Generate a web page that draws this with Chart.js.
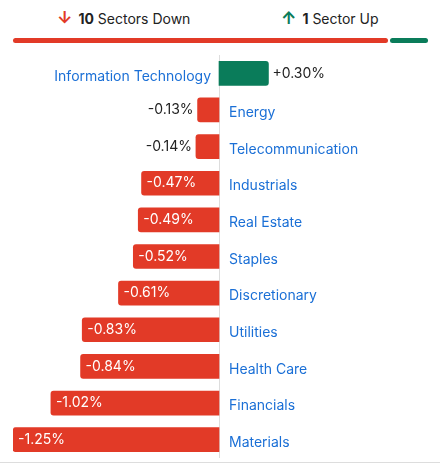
<!DOCTYPE html>
<html>
<head>
<meta charset="utf-8">
<script src="https://cdn.jsdelivr.net/npm/chart.js@4"></script>
<style>
  body { margin: 0; width: 440px; height: 466px; font-family: Inter, "Noto Sans", sans-serif; background: #fff; position: relative; overflow: hidden; }
  .head { position: absolute; top: 8px; font-size: 14px; color: #222; }
  .head b { font-weight: 700; }
  .arrow { font-weight: 700; font-size: 17px; margin-right: 6px; }
  #bar { position: absolute; top: 38px; left: 13px; width: 415px; height: 5px; display: flex; gap: 2px; }
  #bar div { height: 5px; border-radius: 3px; }
  #wrap { position: absolute; left: 0; top: 55px; width: 440px; height: 403px; }
  #baseLine { position: absolute; left: 0; top: 462px; width: 440px; height: 1px; background: #ddd; }
</style>
</head>
<body>
<div class="head" style="left:57px"><span class="arrow" style="color:#e23a27">&#8595;</span><b>10</b> Sectors Down</div>
<div class="head" style="left:281px"><span class="arrow" style="color:#0a7c5a">&#8593;</span><b>1</b> Sector Up</div>
<div id="bar"></div>
<div id="wrap"><canvas id="sectorChart"></canvas></div>
<div id="baseLine"></div>
<script>
const sectors = ['Information Technology', 'Energy', 'Telecommunication', 'Industrials', 'Real Estate',
  'Staples', 'Discretionary', 'Utilities', 'Health Care', 'Financials', 'Materials'];
const changes = [0.30, -0.13, -0.14, -0.47, -0.49, -0.52, -0.61, -0.83, -0.84, -1.02, -1.25];

const RED = '#e23a27';
const GREEN = '#0a7c5a';
const BLUE = '#1a6fd6';

// progress bar at the top, split by counts
const downCount = changes.filter(v => v < 0).length;
const upCount = changes.filter(v => v > 0).length;
const bar = document.getElementById('bar');
bar.innerHTML = `<div style="flex:${downCount};background:${RED}"></div><div style="flex:${upCount};background:${GREEN}"></div>`;

function fmt(v) {
    return (v > 0 ? '+' : '') + v.toFixed(2) + '%';
}

// draws zero line, category labels and value labels
const labelPlugin = {
    id: 'labelPlugin',
    beforeDatasetsDraw(chart) {
        const c = chart.ctx;
        const x0 = chart.scales.x.getPixelForValue(0);
        c.save();
        c.strokeStyle = '#ddd';
        c.lineWidth = 1;
        c.beginPath();
        c.moveTo(x0 + 0.5, 0);
        c.lineTo(x0 + 0.5, chart.height);
        c.stroke();
        c.restore();
    },
    afterDatasetsDraw(chart) {
        const c = chart.ctx;
        const meta = chart.getDatasetMeta(0);
        const x0 = chart.scales.x.getPixelForValue(0);
        c.save();
        c.font = '14px Inter, "Noto Sans", sans-serif';
        c.textBaseline = 'middle';
        meta.data.forEach((el, i) => {
            const v = changes[i];
            const y = el.y;
            // category label on the other side of zero
            c.fillStyle = BLUE;
            if (v < 0) {
                c.textAlign = 'left';
                c.fillText(sectors[i], x0 + 10, y + 3);
            } else {
                c.textAlign = 'right';
                c.fillText(sectors[i], x0 - 8, y + 3);
            }
            // value label
            const w = Math.abs(el.x - x0);
            if (w > 60) {
                c.fillStyle = '#fff';
                c.textAlign = 'left';
                c.fillText(fmt(v), el.x + 5, y);
            } else {
                c.fillStyle = '#222';
                if (v < 0) {
                    c.textAlign = 'right';
                    c.fillText(fmt(v), el.x - 4, y);
                } else {
                    c.textAlign = 'left';
                    c.fillText(fmt(v), el.x + 4, y);
                }
            }
        });
        c.restore();
    }
};

new Chart(document.getElementById('sectorChart'), {
    type: 'bar',
    data: {
        labels: sectors,
        datasets: [{
            data: changes,
            backgroundColor: changes.map(v => v < 0 ? RED : GREEN),
            barThickness: 24,
            borderRadius: 3
        }]
    },
    options: {
        indexAxis: 'y',
        responsive: true,
        maintainAspectRatio: false,
        animation: false,
        layout: { padding: { left: 13, right: 0, top: 0, bottom: 0 } },
        plugins: { legend: { display: false }, tooltip: { enabled: false } },
        scales: {
            x: { min: -1.25, max: 1.341, display: false },
            y: { display: false }
        }
    },
    plugins: [labelPlugin]
});
</script>
</body>
</html>
